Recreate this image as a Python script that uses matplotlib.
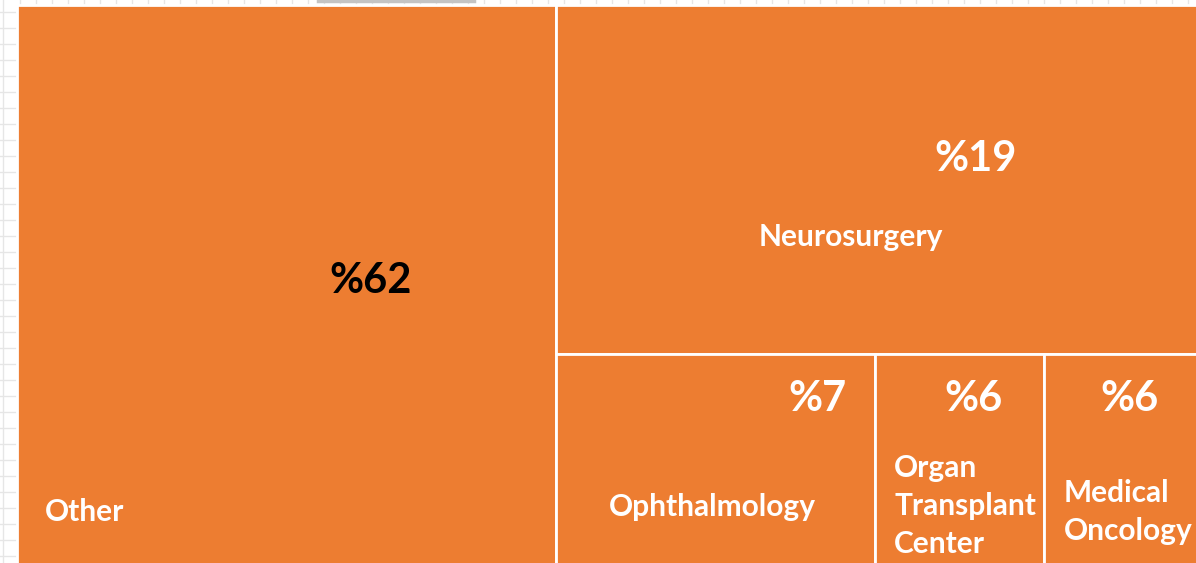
import matplotlib.pyplot as plt
from matplotlib.patches import Rectangle

# treemap data (areas, labels as shown)
names = ["Other", "Neurosurgery", "Ophthalmology", "Organ\nTransplant\nCenter", "Medical\nOncology"]
sizes = [45.7, 33.8, 10.2, 5.4, 4.9]
pct_labels = ["%62", "%19", "%7", "%6", "%6"]

ORANGE = "#ED7D31"
plt.rcParams['font.family'] = ['Lato', 'DejaVu Sans']

W, H = 1196, 563
fig = plt.figure(figsize=(W / 100, H / 100), dpi=100)
ax = fig.add_axes([0, 0, 1, 1])
ax.set_xlim(0, W)
ax.set_ylim(H, 0)
ax.axis("off")

# spreadsheet grid behind the chart
for y in range(12, H, 16):
    ax.plot([0, 17], [y, y], color="#e6e6e6", lw=1, zorder=0)
ax.plot([3, 3], [0, H], color="#e6e6e6", lw=1, zorder=0)
for x in range(20, W, 16):
    ax.plot([x, x], [0, 5], color="#e6e6e6", lw=1, zorder=0)
ax.plot([318, 474], [1, 1], color="#c4c4c4", lw=2.5, zorder=1)

# layout: first item takes a column, second tops the rest, others share the bottom row
x0, y0, x1, y1 = 17, 5, W + 1, H + 3
total = sum(sizes)
wo = (x1 - x0) * sizes[0] / total
rest = total - sizes[0]
hn = (y1 - y0) * sizes[1] / rest
row = sum(sizes[2:])
rects = [(x0, y0, wo, y1 - y0), (x0 + wo, y0, x1 - x0 - wo, hn)]
cx = x0 + wo
for s in sizes[2:]:
    w = (x1 - x0 - wo) * s / row
    rects.append((cx, y0 + hn, w, y1 - y0 - hn))
    cx += w

for (rx, ry, rw, rh) in rects:
    ax.add_patch(Rectangle((rx, ry), rw, rh, facecolor=ORANGE, edgecolor="white", lw=2, zorder=2))

big = 30
small = 21.5
# Other
rx, ry, rw, rh = rects[0]
ax.text(rx + rw * 0.655, 281, pct_labels[0], fontsize=big, fontweight="bold", color="black",
        ha="center", va="center", zorder=3)
ax.text(rx + 28, 512, names[0], fontsize=small, fontweight="bold", color="white", ha="left", va="center", zorder=3)
# Neurosurgery
rx, ry, rw, rh = rects[1]
ax.text(rx + rw * 0.655, 159, pct_labels[1], fontsize=big, fontweight="bold", color="white",
        ha="center", va="center", zorder=3)
ax.text(rx + rw * 0.46, 237, names[1], fontsize=small, fontweight="bold", color="white",
        ha="center", va="center", zorder=3)
# Ophthalmology
rx, ry, rw, rh = rects[2]
ax.text(rx + rw - 29, 399, pct_labels[2], fontsize=big, fontweight="bold", color="white",
        ha="right", va="center", zorder=3)
ax.text(rx + rw * 0.49, 507, names[2], fontsize=small, fontweight="bold", color="white",
        ha="center", va="center", zorder=3)
# Organ transplant center
rx, ry, rw, rh = rects[3]
ax.text(rx + 98, 399, pct_labels[3], fontsize=big, fontweight="bold", color="white",
        ha="center", va="center", zorder=3)
ax.text(rx + 19, 506, names[3], fontsize=small, fontweight="bold", color="white",
        ha="left", va="center", linespacing=1.42, zorder=3)
# Medical oncology
rx, ry, rw, rh = rects[4]
ax.text(rx + 20, 512, names[4], fontsize=small, fontweight="bold", color="white",
        ha="left", va="center", linespacing=1.42, zorder=3)
ax.text(rx + 86, 399, pct_labels[4], fontsize=big, fontweight="bold", color="white",
        ha="center", va="center", zorder=3)

fig.savefig("out.png", dpi=100)
